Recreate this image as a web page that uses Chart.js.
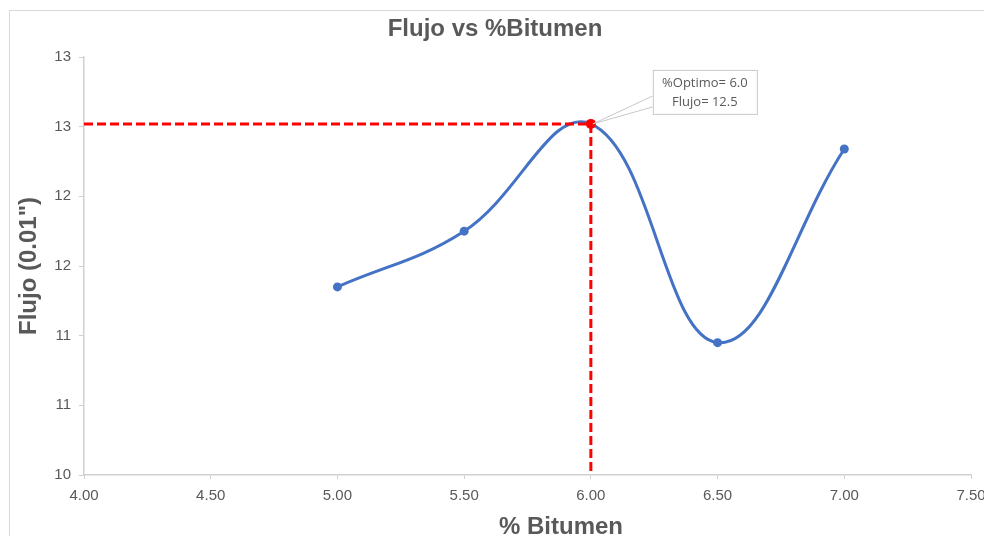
<!DOCTYPE html>
<html>
<head>
<meta charset="utf-8">
<script src="https://cdn.jsdelivr.net/npm/chart.js@4.4.1/dist/chart.umd.min.js"></script>
<style>
  html, body { margin: 0; padding: 0; background: #fff; overflow: hidden; width: 984px; height: 536px; }
  .frame { position: absolute; left: 9px; top: 10px; width: 1000px; height: 600px; border: 1.5px solid #d9d9d9; }
  .wrap { position: absolute; left: 0; top: 0; width: 1000px; height: 536px; }
</style>
</head>
<body>
<div class="frame"></div>
<div class="wrap"><canvas id="chart" width="1000" height="536"></canvas></div>
<script>
// data
const bitumen = [5.0, 5.5, 6.0, 6.5, 7.0];
const flujo = [11.35, 11.75, 12.52, 10.95, 12.34];

// optimum marker (dashed guide lines)
const optimoX = [4.0, 6.0, 6.0];
const optimoY = [12.52, 12.52, 10.0];
const calloutLines = ['%Optimo= 6.0', 'Flujo= 12.5'];

const xTickLabels = ['4.00', '4.50', '5.00', '5.50', '6.00', '6.50', '7.00', '7.50'];
const yTickLabels = ['10', '11', '11', '12', '12', '13', '13'];

const TEXT = '#595959';
const AXIS = '#d0d0d0';
const FONT = "'Liberation Sans', Arial, sans-serif";

// titles and the callout box, drawn on top of everything
const decorations = {
  id: 'decorations',
  afterDraw(chart) {
    const ctx = chart.ctx;
    const xs = chart.scales.x, ys = chart.scales.y;
    ctx.save();
    ctx.fillStyle = TEXT;
    ctx.font = 'bold 24px ' + FONT;
    ctx.textAlign = 'center';
    ctx.textBaseline = 'alphabetic';
    ctx.fillText('Flujo vs %Bitumen', 495, 36);
    ctx.fillText('% Bitumen', 561, 534);
    ctx.save();
    ctx.translate(36, 266);
    ctx.rotate(-Math.PI / 2);
    ctx.fillText('Flujo (0.01")', 0, 0);
    ctx.restore();

    // callout
    const px = xs.getPixelForValue(optimoX[1]);
    const py = ys.getPixelForValue(optimoY[1]);
    const bx = px + 62, by = py - 54, bw = 104, bh = 44;
    ctx.strokeStyle = '#c8c8c8';
    ctx.lineWidth = 1;
    ctx.beginPath();
    ctx.moveTo(bx, by + 26);
    ctx.lineTo(px + 2, py);
    ctx.lineTo(bx, by + 37);
    ctx.stroke();
    ctx.fillStyle = '#fff';
    ctx.fillRect(bx, by, bw, bh);
    ctx.strokeRect(bx + 0.5, by + 0.5, bw, bh);
    ctx.fillStyle = TEXT;
    ctx.font = "13px 'Open Sans', sans-serif";
    ctx.textBaseline = 'middle';
    ctx.fillText(calloutLines[0], bx + bw / 2, by + 13);
    ctx.fillText(calloutLines[1], bx + bw / 2, by + 32);
    ctx.restore();
  }
};

new Chart(document.getElementById('chart'), {
  type: 'line',
  data: {
    datasets: [
      {
        label: 'Optimo',
        data: optimoX.map((x, i) => ({ x, y: optimoY[i] })),
        borderColor: '#ff0000',
        backgroundColor: '#ff0000',
        borderWidth: 3,
        borderDash: [9, 4],
        tension: 0,
        pointRadius: [0, 5, 0],
        pointBorderWidth: 0,
      },
      {
        label: 'Flujo',
        data: bitumen.map((x, i) => ({ x, y: flujo[i] })),
        borderColor: '#4472c4',
        backgroundColor: '#4472c4',
        borderWidth: 3,
        tension: 0.4,
        pointRadius: 4.5,
        pointBorderWidth: 0,
      },
    ],
  },
  options: {
    responsive: false,
    animation: false,
    layout: { padding: { left: 0, top: 57, right: 29, bottom: 0 } },
    scales: {
      x: {
        type: 'linear',
        min: 4,
        max: 7.5,
        afterFit: (s) => { s.height = 61; },
        ticks: {
          stepSize: 0.5,
          padding: 8,
          color: TEXT,
          font: { family: FONT, size: 15 },
          maxRotation: 0,
          callback: (v, i) => xTickLabels[i],
        },
        grid: { drawOnChartArea: false, tickLength: 4, color: AXIS },
        border: { color: AXIS, width: 1.5 },
      },
      y: {
        min: 10,
        max: 13,
        afterFit: (s) => { s.width = 84; },
        ticks: {
          stepSize: 0.5,
          padding: 8,
          color: TEXT,
          font: { family: FONT, size: 15 },
          callback: (v, i) => yTickLabels[i],
        },
        grid: { drawOnChartArea: false, tickLength: 5, color: AXIS },
        border: { color: AXIS, width: 1.5 },
      },
    },
    plugins: {
      legend: { display: false },
      tooltip: { enabled: false },
      title: { display: false },
    },
  },
  plugins: [decorations],
});
</script>
</body>
</html>
